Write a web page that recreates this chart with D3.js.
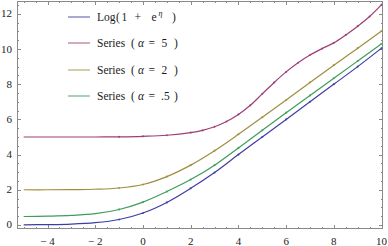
<!DOCTYPE html>
<html><head><meta charset="utf-8">
<script src="https://cdnjs.cloudflare.com/ajax/libs/d3/7.8.5/d3.min.js"></script>
<style>body{margin:0;background:#fff}svg{display:block}</style>
</head><body><svg id="c" width="388" height="246"></svg>
<script>
const etaInt = [-5,-4,-3,-2,-1,0,1,2,3,4,5,6,7,8,9,10];
const logSeries = [0.01,0.02,0.05,0.13,0.31,0.68,1.28,2.08,2.98,4.0,5.0,6.0,7.0,8.0,9.0,10.05];
const alpha2 = [2.0,2.0,2.01,2.03,2.1,2.3,2.75,3.4,4.22,5.15,6.12,7.1,8.1,9.08,10.05,11.02];
const alpha05 = [0.48,0.5,0.54,0.64,0.88,1.3,1.9,2.58,3.4,4.38,5.38,6.38,7.36,8.34,9.32,10.3];
const etaA5 = [-5,-4,-3,-2,-1,0,1,2,2.5,3,3.5,4,4.5,5,5.5,6,6.5,7,7.5,8,8.5,9,9.5,10];
const alpha5 = [5.0,5.0,5.0,5.0,5.01,5.04,5.1,5.25,5.38,5.58,5.88,6.28,6.8,7.45,8.1,8.7,9.22,9.66,10.02,10.35,10.8,11.3,11.85,12.52];
const xTicks = [-4,-2,0,2,4,6,8,10];
const yTicks = [0,2,4,6,8,10,12];
const legendAlpha = [null, "5", "2", ".5"];

const colors = {log:"#3d3da6", a5:"#a03d76", a2:"#a08e3d", a05:"#3d9d5a"};

const svg = d3.select("#c");
const L=17, R=383, T=1, B=229;
const x = d3.scaleLinear().domain([-5.28,10.06]).range([L,R]);
const y = d3.scaleLinear().domain([-0.23,12.73]).range([B,T]);

svg.append("rect").attr("x",L+0.5).attr("y",T+0.5).attr("width",R-L-1).attr("height",B-T-1)
  .attr("fill","none").attr("stroke","#8a8a8a").attr("stroke-width",1);

const g = svg.append("g");
const minorX = d3.range(-5,10.01,0.5).filter(v=>Math.abs(v%2)>1e-6);
const minorY = d3.range(0,12.51,0.5).filter(v=>Math.abs(v%2)>1e-6);
function tk(x1,y1,x2,y2){g.append("line").attr("x1",x1).attr("y1",y1).attr("x2",x2).attr("y2",y2).attr("stroke","#8a8a8a").attr("stroke-width",1);}
xTicks.forEach(v=>{const p=Math.round(x(v))+0.5; tk(p,B,p,B-4); tk(p,T,p,T+4);});
minorX.forEach(v=>{const p=Math.round(x(v))+0.5; tk(p,B,p,B-2); tk(p,T,p,T+2);});
yTicks.forEach(v=>{const p=Math.round(y(v))+0.5; tk(L,p,L+4,p); tk(R,p,R-4,p);});
minorY.forEach(v=>{const p=Math.round(y(v))+0.5; tk(L,p,L+2,p); tk(R,p,R-2,p);});

const font = "'Liberation Serif','DejaVu Serif',serif";
xTicks.forEach(v=>{
  svg.append("text").attr("x",x(v)).attr("y",245).attr("text-anchor","middle")
    .attr("font-family",font).attr("font-size",11).attr("fill","#222")
    .text(v<0? "\u2212 "+Math.abs(v) : String(v));
});
yTicks.forEach(v=>{
  svg.append("text").attr("x",12).attr("y",y(v)+3.5).attr("text-anchor","end")
    .attr("font-family",font).attr("font-size",11).attr("fill","#222").text(String(v));
});

const line = d3.line().x(d=>x(d[0])).y(d=>y(d[1])).curve(d3.curveCatmullRom.alpha(0.5));
const series = [
  {xs:etaInt, ys:logSeries, c:colors.log},
  {xs:etaA5, ys:alpha5, c:colors.a5},
  {xs:etaInt, ys:alpha2, c:colors.a2},
  {xs:etaInt, ys:alpha05, c:colors.a05}
];
svg.append("clipPath").attr("id","clp").append("rect").attr("x",L).attr("y",T).attr("width",R-L).attr("height",B-T);
const pg = svg.append("g").attr("clip-path","url(#clp)");
series.forEach(s=>{
  const pts = s.xs.map((v,i)=>[v,s.ys[i]]);
  pg.append("path").attr("d",line(pts)).attr("fill","none").attr("stroke",s.c).attr("stroke-width",1.2);
  pg.selectAll(null).data(pts.filter(p=>p[0]>=-1)).enter().append("circle")
    .attr("cx",d=>x(d[0])).attr("cy",d=>y(d[1])).attr("r",1.1).attr("fill",s.c).attr("opacity",0.8);
});

// legend
const legY = [17, 43, 70, 96];
const legC = [colors.log, colors.a5, colors.a2, colors.a05];
function tx(ly, px, str, opts){
  const t = svg.append("text").attr("x",px).attr("y",ly).attr("font-family",font)
    .attr("font-size",(opts&&opts.size)||11.5).attr("fill","#1a1a1a").text(str);
  if(opts&&opts.italic) t.attr("font-style","italic");
  return t;
}
legY.forEach((ly,i)=>{
  svg.append("line").attr("x1",68).attr("x2",90).attr("y1",ly).attr("y2",ly)
    .attr("stroke",legC[i]).attr("stroke-width",1.6).attr("opacity",0.55);
  const b = ly+4;
  if(i===0){
    tx(b,97,"Log");
    tx(b,116,"(");
    tx(b,121.5,"1");
    tx(b,134.5,"+");
    tx(b,151.5,"e");
    tx(b-5,158.5,"\u03b7",{size:8,italic:true});
    tx(b,172,")");
  } else {
    tx(b,97,"Series");
    tx(b,131,"(");
    tx(b,138,"\u03b1",{italic:true});
    tx(b,148.5,"=");
    tx(b, legendAlpha[i].length>1?161:161.5, legendAlpha[i]);
    tx(b, legendAlpha[i].length>1?174:174, ")");
  }
});
</script></body></html>
